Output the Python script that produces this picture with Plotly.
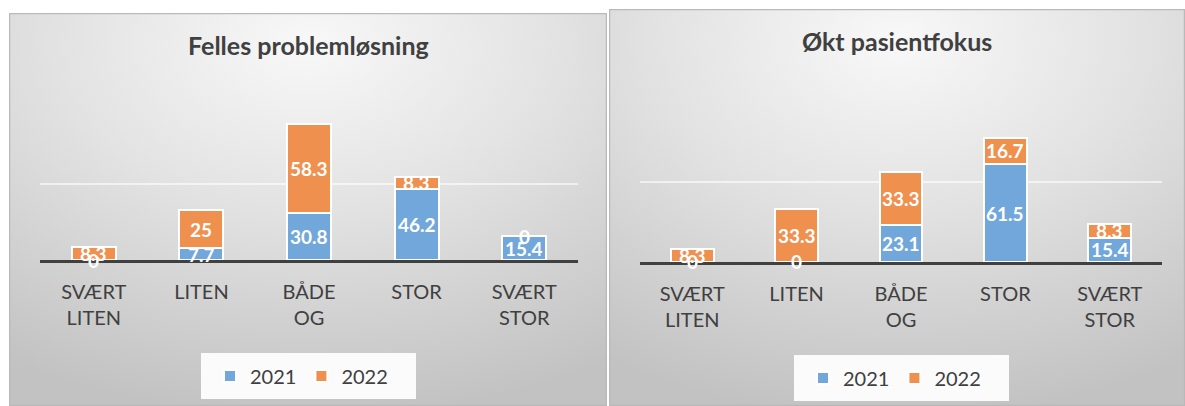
import base64
import plotly.graph_objects as go

# ---------------- data ----------------
categories = ["SVÆRT LITEN", "LITEN", "BÅDE OG", "STOR", "SVÆRT STOR"]
tick_labels = ["SVÆRT<br>LITEN", "LITEN", "BÅDE<br>OG", "STOR", "SVÆRT<br>STOR"]
series_names = ["2021", "2022"]

felles_2021 = [0, 7.7, 30.8, 46.2, 15.4]
felles_2022 = [8.3, 25, 58.3, 8.3, 0]

pasient_2021 = [0, 0, 23.1, 61.5, 15.4]
pasient_2022 = [8.3, 33.3, 33.3, 16.7, 8.3]

titles = ["Felles problemløsning", "Økt pasientfokus"]

# ---------------- style ----------------
W, H = 1185, 406
BLUE = "#72A7DB"
ORANGE = "#F0904F"
TEXT = "#404040"
FONT = "Lato"
YMAX = 100.6


def px_x(p):
    return p / W


def px_y(p):
    return 1 - p / H


def bg_uri():
    svg = (
        "<svg xmlns='http://www.w3.org/2000/svg' width='600' height='400' "
        "viewBox='0 0 600 400' preserveAspectRatio='none'>"
        "<defs><radialGradient id='g' cx='50%' cy='8%' r='95%' fx='50%' fy='8%'>"
        "<stop offset='0' stop-color='#f8f8f8'/>"
        "<stop offset='0.45' stop-color='#e2e2e2'/>"
        "<stop offset='1' stop-color='#c2c2c2'/>"
        "</radialGradient></defs>"
        "<rect x='0' y='0' width='600' height='400' fill='url(#g)'/>"
        "<rect x='0.5' y='0.5' width='599' height='399' fill='none' stroke='#b9b9b9' stroke-width='1.5'/>"
        "</svg>"
    )
    return "data:image/svg+xml;base64," + base64.b64encode(svg.encode()).decode()


fig = go.Figure()

panels = [
    dict(v21=felles_2021, v22=felles_2022, xa="x", ya="y", legend="legend",
         plot=(40, 578, 107, 260), panel=(9, 607, 13, 406), legbox=(201, 416, 353, 399),
         title_y=45, leg_x=210, leg_y=376),
    dict(v21=pasient_2021, v22=pasient_2022, xa="x2", ya="y2", legend="legend2",
         plot=(640, 1162, 103, 262), panel=(609, 1185, 9, 406), legbox=(794, 1009, 355, 401),
         title_y=41, leg_x=803, leg_y=378),
]

annotations = []
shapes = []
images = []

for i, p in enumerate(panels):
    for name, vals, col in ((series_names[0], p["v21"], BLUE), (series_names[1], p["v22"], ORANGE)):
        fig.add_trace(go.Bar(
            x=categories, y=vals, name=name, xaxis=p["xa"], yaxis=p["ya"],
            marker=dict(color=col, line=dict(color="white", width=2)),
            width=0.41, legend=p["legend"], hoverinfo="skip",
        ))
    # data labels centred in each segment
    for c, a, b in zip(categories, p["v21"], p["v22"]):
        for yv, txt in ((a / 2, a), (a + b / 2, b)):
            annotations.append(dict(
                x=c, y=yv, xref=p["xa"], yref=p["ya"], text=f"{txt:g}",
                showarrow=False, font=dict(family=FONT, size=19, color="white", weight="bold"),
                xanchor="center", yanchor="middle",
            ))
    x0, x1, y0, y1 = p["panel"]
    images.append(dict(
        source=bg_uri(), xref="paper", yref="paper", x=px_x(x0), y=px_y(y0),
        sizex=px_x(x1) - px_x(x0), sizey=(y1 - y0) / H, sizing="stretch",
        xanchor="left", yanchor="top", layer="below",
    ))
    # title
    annotations.append(dict(
        x=px_x((x0 + x1) / 2), y=px_y(p["title_y"]), xref="paper", yref="paper",
        text=f"<b>{titles[i]}</b>", showarrow=False,
        font=dict(family=FONT, size=25, color=TEXT), xanchor="center", yanchor="middle",
    ))
    # legend box
    lx0, lx1, ly0, ly1 = p["legbox"]
    shapes.append(dict(
        type="rect", xref="paper", yref="paper", x0=px_x(lx0), x1=px_x(lx1),
        y0=px_y(ly1), y1=px_y(ly0), fillcolor="#fbfbfb", line=dict(width=0), layer="below",
    ))

axis_common_x = dict(
    type="category", tickvals=categories, ticktext=tick_labels,
    showline=True, linecolor="#404040", linewidth=3, showgrid=False,
    ticks="outside", ticklen=12, tickcolor="rgba(0,0,0,0)",
    tickfont=dict(family=FONT, size=20, color=TEXT), fixedrange=True,
)
axis_common_y = dict(
    range=[0, YMAX], tickvals=[50, 100], showticklabels=False, zeroline=False,
    showgrid=True, gridcolor="rgba(255,255,255,0.6)", gridwidth=1.5, fixedrange=True,
)


def ydomain(plot):
    _, _, top100, base = plot
    scale = (base - top100) / 100.0
    top = base - YMAX * scale
    return [px_y(base), px_y(top)]


p0, p1 = panels
fig.update_layout(
    width=W, height=H, margin=dict(l=0, r=0, t=0, b=0),
    paper_bgcolor="white", plot_bgcolor="rgba(0,0,0,0)",
    barmode="stack", showlegend=True, hovermode=False,
    xaxis=dict(domain=[px_x(p0["plot"][0]), px_x(p0["plot"][1])], anchor="y", **axis_common_x),
    yaxis=dict(domain=ydomain(p0["plot"]), anchor="x", **axis_common_y),
    xaxis2=dict(domain=[px_x(p1["plot"][0]), px_x(p1["plot"][1])], anchor="y2", **axis_common_x),
    yaxis2=dict(domain=ydomain(p1["plot"]), anchor="x2", **axis_common_y),
    legend=dict(orientation="h", x=px_x(p0["leg_x"]), y=px_y(p0["leg_y"]), xanchor="left",
                yanchor="middle", bgcolor="rgba(0,0,0,0)",
                font=dict(family=FONT, size=20, color=TEXT), traceorder="normal"),
    legend2=dict(orientation="h", x=px_x(p1["leg_x"]), y=px_y(p1["leg_y"]), xanchor="left",
                 yanchor="middle", bgcolor="rgba(0,0,0,0)",
                 font=dict(family=FONT, size=20, color=TEXT), traceorder="normal"),
    annotations=annotations, shapes=shapes, images=images,
)

fig.write_html(
    "out.html",
    config={"displayModeBar": False},
    post_script="document.body.style.margin='0';document.body.style.overflow='hidden';",
)
